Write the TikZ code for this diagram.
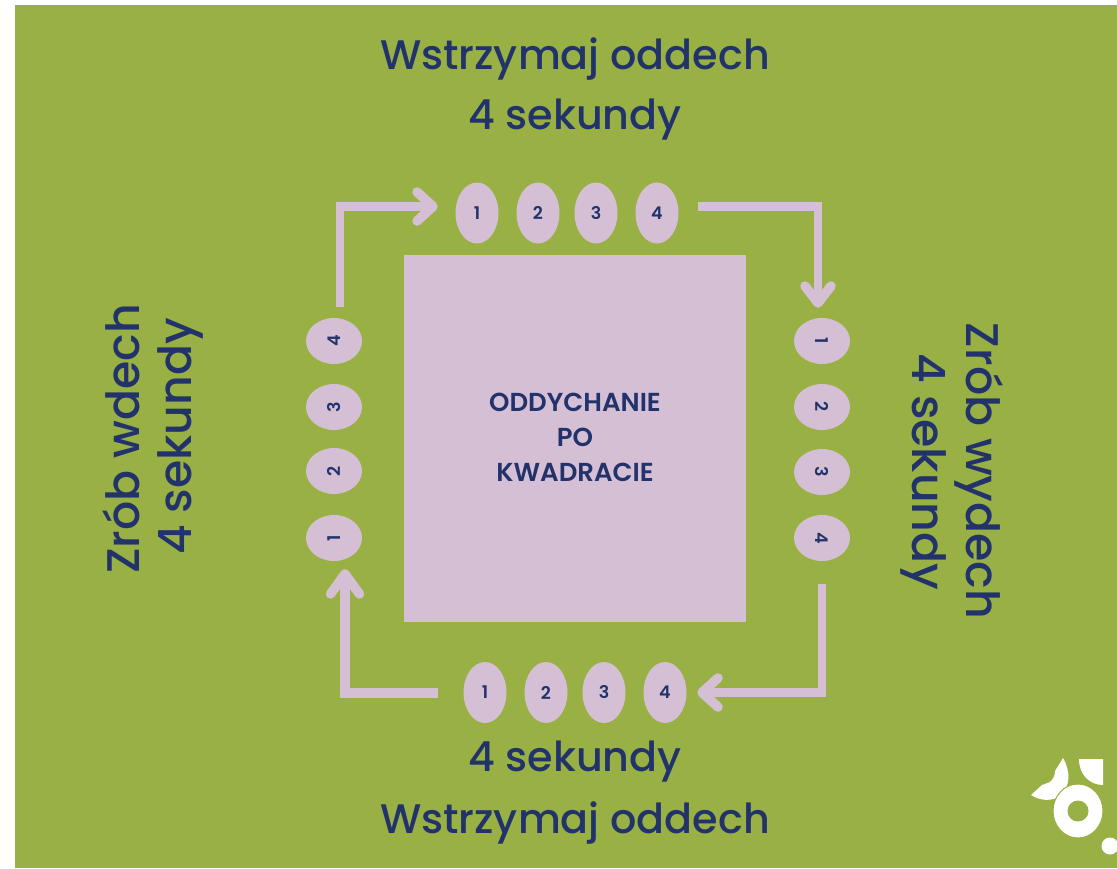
\documentclass[tikz,border=0pt]{standalone}
\usepackage{fontspec}
\setmainfont{Poppins}
\newfontfamily\med{Poppins Medium}
\newfontfamily\semi{Poppins SemiBold}
\newfontfamily\bld{Poppins Bold}
\usetikzlibrary{arrows.meta,shapes.geometric}
\definecolor{grn}{HTML}{98B044}
\definecolor{lil}{HTML}{D5BFD5}
\definecolor{nav}{HTML}{22336B}
\tikzset{
  x=1pt,y=-1pt,
  num/.style={ellipse,fill=lil,inner sep=0pt,text=nav,font=\semi\fontsize{17.5}{17.5}\selectfont},
  vnum/.style={num,minimum width=43pt,minimum height=61pt},
  hnum/.style={num,minimum width=46pt,minimum height=56pt},
  head/.style={text=nav,font=\med\fontsize{41.3}{46}\selectfont,inner sep=0pt},
  side/.style={head,font=\med\fontsize{45.8}{46}\selectfont},
  flow/.style={draw=lil,line width=8.5pt,line join=miter},
  flowb/.style={flow,line width=10pt},
  barb/.style={draw=lil,line width=9.5pt,line cap=round,line join=round},
}
\begin{document}
\begin{tikzpicture}
\useasboundingbox (0,0) rectangle (1117,868);
\fill[white] (0,0) rectangle (1117,868);
\fill[grn] (15,5) rectangle (1117,868);
\node[fill=lil,minimum width=342pt,minimum height=367pt,inner sep=0pt] (sq) at (575,438.5) {};
\node[inner sep=0pt,text=nav,align=center,font=\semi\fontsize{26}{35}\selectfont] (sqt) at (575,437.5) {ODDYCHANIE\\PO\\KWADRACIE};
\foreach \n/\x in {1/477,2/538,3/596,4/657}{\node[vnum] (t\n) at (\x,213) {\n};}
\foreach \n/\x in {1/485,2/546,3/604,4/665}{\node[vnum] (b\n) at (\x,692.5) {\n};}
\foreach \n/\y in {1/538,2/471,3/407,4/341}{\node[hnum,rotate=90] (l\n) at (334,\y) {\n};}
\foreach \n/\y in {1/341,2/407,3/472,4/538}{\node[hnum,rotate=-90] (r\n) at (822,\y) {\n};}
\node[head] (ttop1) at (575,59) {Wstrzymaj oddech};
\node[head] (ttop2) at (575,120) {4 sekundy};
\node[head] (tbot1) at (575,762) {4 sekundy};
\node[head] (tbot2) at (575,823) {Wstrzymaj oddech};
\node[side,rotate=90] (tl1) at (121,439) {Zrób wdech};
\node[side,rotate=90] (tl2) at (180,436.5) {4 sekundy};
\node[side,rotate=-90] (tr1) at (979,471) {Zrób wydech};
\node[side,rotate=-90] (tr2) at (924,472) {4 sekundy};
\coordinate (a1s) at (340,307); \coordinate (a1m) at (340,206.5); \coordinate (a1e) at (433,206.5);
\coordinate (a2s) at (698,206.5); \coordinate (a2m) at (818,206.5); \coordinate (a2e) at (818,303);
\coordinate (a3s) at (822,584); \coordinate (a3m) at (822,692.5); \coordinate (a3e) at (702,692.5);
\coordinate (a4s) at (438,692.5); \coordinate (a4m) at (345,692.5); \coordinate (a4e) at (345,574);
\draw[flow] (a1s) -- (a1m) -- (a1e);
\draw[barb] ([shift={(-16,-14.5)}]a1e) -- (a1e) -- ([shift={(-16,14.5)}]a1e);
\draw[flow] (a2s) -- (a2m) -- (a2e);
\draw[barb] ([shift={(-13,-17)}]a2e) -- (a2e) -- ([shift={(13,-17)}]a2e);
\draw[flow] (a3s) -- (a3m) -- (a3e);
\draw[barb] ([shift={(16,-14.5)}]a3e) -- (a3e) -- ([shift={(16,14.5)}]a3e);
\draw[flowb] (a4s) -- (a4m) -- (a4e);
\draw[barb] ([shift={(-14.5,20)}]a4e) -- (a4e) -- ([shift={(14.5,20)}]a4e);
% logo
\fill[white] (1079,759) -- (1103,759) -- (1103,785) .. controls (1090,785) and (1079,775) .. (1079,759) -- cycle;
\fill[white] (1063,758) .. controls (1071,772) and (1070,786) .. (1061,795) .. controls (1053,802) and (1040,801) .. (1031,795) -- (1042,785) -- (1050,782) .. controls (1054,778) and (1055,775) .. (1055,771) -- cycle;
\draw[grn,line width=1pt,fill=white,even odd rule] (1078,811) ellipse [x radius=25,y radius=27] (1078,811) circle [radius=10];
\fill[white] (1110,846) circle [radius=8.5];
\end{tikzpicture}
\end{document}
